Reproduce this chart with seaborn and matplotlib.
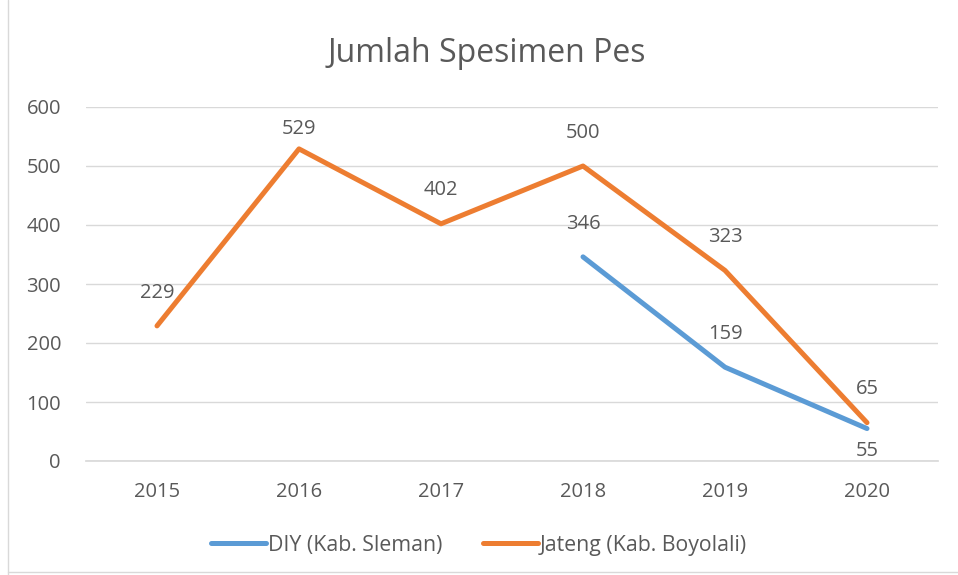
import pandas as pd
import seaborn as sns
import matplotlib.pyplot as plt
from matplotlib.lines import Line2D

sns.set_theme(style="white")
plt.rcParams['font.family'] = ['Open Sans', 'DejaVu Sans']

years = [2015, 2016, 2017, 2018, 2019, 2020]
diy = [None, None, None, 346, 159, 55]
jateng = [229, 529, 402, 500, 323, 65]
series_names = ["DIY (Kab. Sleman)", "Jateng (Kab. Boyolali)"]
colors = ["#5B9BD5", "#ED7D31"]

df = pd.DataFrame({"year": years * 2,
                   "value": diy + jateng,
                   "series": [series_names[0]] * 6 + [series_names[1]] * 6}).dropna()

text_col = "#595959"
fs = 14.5

fig = plt.figure(figsize=(9.58, 5.75), dpi=100)
ax = fig.add_axes([86/958, 1 - 461/575, 852/958, 354/575])

sns.lineplot(ax=ax, data=df, x="year", y="value", hue="series",
             palette=colors, linewidth=3.6, legend=False)

ax.set_xlim(2014.5, 2020.5)
ax.set_ylim(0, 600)
ax.set_yticks(range(0, 601, 100))
ax.set_xticks(years)
ax.set_xticklabels([str(y) for y in years])
ax.tick_params(axis='both', colors=text_col, labelsize=fs, length=0)
ax.tick_params(axis='x', pad=15)
ax.tick_params(axis='y', pad=18)
ax.grid(axis='y', color="#D9D9D9", linewidth=1)
for s in ["top", "right", "left"]:
    ax.spines[s].set_visible(False)
ax.spines["bottom"].set_color("#D9D9D9")
ax.set_xlabel("")
ax.set_ylabel("")

# data labels
for y, v in zip(years, diy):
    if v is None:
        continue
    off = -16 if y == 2020 else 24
    ax.annotate(str(v), (y, v), xytext=(0, off), textcoords="offset points",
                ha="center", va="center", fontsize=fs, color=text_col)
for y, v in zip(years, jateng):
    off = 14 if v == 529 else 24
    ax.annotate(str(v), (y, v), xytext=(0, off), textcoords="offset points",
                ha="center", va="center", fontsize=fs, color=text_col)

fig.text(487/958, 1 - 53/575, "Jumlah Spesimen Pes", ha="center", va="center",
         fontsize=23, color=text_col)

handles = [Line2D([0], [0], color=c, linewidth=3.6) for c in colors]
fig.legend(handles, series_names, loc="center", bbox_to_anchor=(0.5, 1 - 545/575),
           ncol=2, frameon=False, fontsize=15.3, handlelength=2.6, handletextpad=0.1,
           columnspacing=1.9, labelcolor=text_col)

# chart border (left and bottom visible)
fig.add_artist(Line2D([8/958, 8/958], [0, 1], color="#D9D9D9", linewidth=1))
fig.add_artist(Line2D([8/958, 1], [1 - 572/575, 1 - 572/575], color="#D9D9D9", linewidth=1))

fig.savefig("out.png", dpi=100)
